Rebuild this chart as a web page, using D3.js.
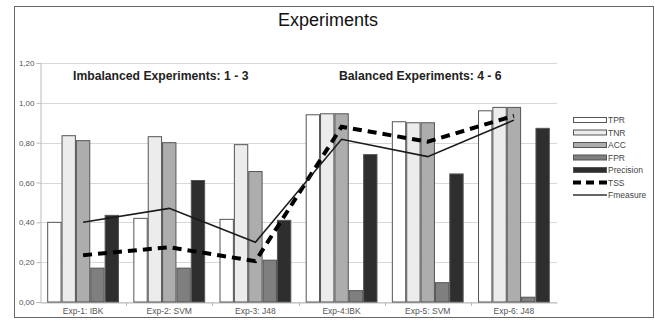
<!DOCTYPE html>
<html><head><meta charset="utf-8">
<script src="https://cdn.jsdelivr.net/npm/d3@7"></script>
<style>
body{margin:0;background:#fff;}
svg{display:block;font-family:"Liberation Sans",Arial,sans-serif;}
</style></head>
<body>
<svg id="c" width="655" height="320"></svg>
<script>
const categories = ["Exp-1: IBK","Exp-2: SVM","Exp-3: J48","Exp-4:IBK","Exp-5: SVM","Exp-6: J48"];
const barSeries = ["TPR","TNR","ACC","FPR","Precision"];
const TPR = [0.40,0.42,0.415,0.94,0.905,0.96];
const TNR = [0.835,0.83,0.79,0.945,0.90,0.977];
const ACC = [0.81,0.80,0.655,0.945,0.90,0.977];
const FPR = [0.17,0.17,0.21,0.057,0.097,0.024];
const Precision = [0.435,0.61,0.41,0.74,0.643,0.872];
const TSS = [0.235,0.275,0.205,0.88,0.805,0.935];
const Fmeasure = [0.40,0.47,0.30,0.817,0.73,0.913];
const yTicks = [0,0.2,0.4,0.6,0.8,1.0,1.2];
const tickLabels = ["0,00","0,20","0,40","0,60","0,80","1,00","1,20"];
const annotations = ["Imbalanced Experiments: 1 - 3","Balanced Experiments: 4 - 6"];

const barValues = {TPR, TNR, ACC, FPR, Precision};
const fills = {TPR:"#ffffff", TNR:"#ececec", ACC:"#adadad", FPR:"#7f7f7f", Precision:"#2e2e2e"};

const svg = d3.select("#c");
const L = 40, R = 557, T = 63, B = 302;

// outer frame
svg.append("rect").attr("x",14.5).attr("y",6.5).attr("width",639).attr("height",311)
  .attr("fill","none").attr("stroke","#666").attr("stroke-width",1);

svg.append("text").attr("x",328).attr("y",26).attr("text-anchor","middle")
  .attr("font-size",18).attr("fill","#111").text("Experiments");

const x0 = d3.scaleBand().domain(categories).range([L,R]).paddingInner(0).paddingOuter(0);
const x1 = d3.scaleBand().domain(barSeries).range([0,x0.bandwidth()]).paddingInner(0).paddingOuter(0.5);
const y = d3.scaleLinear().domain([0,1.2]).range([B,T]);

// gridlines
svg.append("g").selectAll("line").data(yTicks).join("line")
  .attr("x1",L).attr("x2",R).attr("y1",d=>Math.round(y(d))+0.5).attr("y2",d=>Math.round(y(d))+0.5)
  .attr("stroke","#d8d8d8").attr("stroke-width",1);

// y axis
const yAxis = d3.axisLeft(y).tickValues(yTicks).tickFormat((d,i)=>tickLabels[i]).tickSize(4).tickPadding(2);
const gy = svg.append("g").attr("transform",`translate(${L+0.5},0)`).call(yAxis);
gy.select(".domain").attr("stroke","#bbb");
gy.selectAll(".tick line").attr("stroke","#bbb");
gy.selectAll(".tick text").attr("font-size",8).attr("fill","#555").attr("font-family","Liberation Sans, Arial, sans-serif");

// x axis
const xAxis = d3.axisBottom(x0).tickSize(0).tickPadding(5);
const gx = svg.append("g").attr("transform",`translate(0,${B+0.5})`).call(xAxis);
gx.select(".domain").attr("stroke","#bbb");
gx.selectAll(".tick text").attr("font-size",8.5).attr("fill","#555").attr("font-family","Liberation Sans, Arial, sans-serif");
// separators between categories
svg.append("g").selectAll("line").data(categories.slice(1)).join("line")
  .attr("x1",d=>Math.round(x0(d))+0.5).attr("x2",d=>Math.round(x0(d))+0.5)
  .attr("y1",B).attr("y2",B+4).attr("stroke","#bbb");

// annotations
svg.append("text").attr("x",73).attr("y",80).attr("font-size",12.2).attr("font-weight","bold")
  .attr("fill","#222").text(annotations[0]);
svg.append("text").attr("x",339).attr("y",80).attr("font-size",12.2).attr("font-weight","bold")
  .attr("fill","#222").text(annotations[1]);

// bars
const groups = svg.append("g").selectAll("g").data(categories).join("g")
  .attr("transform",d=>`translate(${x0(d)},0)`);
groups.selectAll("rect").data((d,i)=>barSeries.map(s=>({s, v:barValues[s][i]}))).join("rect")
  .attr("x",d=>x1(d.s)+0.5).attr("width",x1.bandwidth()-1)
  .attr("y",d=>y(d.v)).attr("height",d=>B-y(d.v))
  .attr("fill",d=>fills[d.s]).attr("stroke","#555").attr("stroke-width",1);

// lines
const line = d3.line().x((d,i)=>x0(categories[i])+x0.bandwidth()/2).y(d=>y(d));
svg.append("path").datum(TSS).attr("d",line).attr("fill","none")
  .attr("stroke","#000").attr("stroke-width",4).attr("stroke-dasharray","9,6");
svg.append("path").datum(Fmeasure).attr("d",line).attr("fill","none")
  .attr("stroke","#1a1a1a").attr("stroke-width",1.5);

// legend
const leg = svg.append("g");
const legItems = ["TPR","TNR","ACC","FPR","Precision","TSS","Fmeasure"];
legItems.forEach((s,i)=>{
  const yy = 120 + i*12.5;
  if (fills[s]) {
    leg.append("rect").attr("x",573.5).attr("y",yy-2.5).attr("width",33).attr("height",5)
      .attr("fill",fills[s]).attr("stroke","#555");
  } else if (s==="TSS") {
    leg.append("line").attr("x1",573).attr("x2",607).attr("y1",yy).attr("y2",yy)
      .attr("stroke","#000").attr("stroke-width",4).attr("stroke-dasharray","8,5");
  } else {
    leg.append("line").attr("x1",573).attr("x2",607).attr("y1",yy).attr("y2",yy)
      .attr("stroke","#333").attr("stroke-width",1.5);
  }
  leg.append("text").attr("x",608).attr("y",yy).attr("dominant-baseline","central")
    .attr("font-size",8.5).attr("fill","#444").text(s);
});
</script>
</body></html>
